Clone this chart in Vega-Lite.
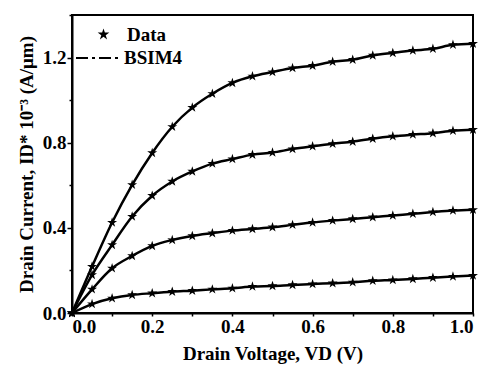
{
  "$schema": "https://vega.github.io/schema/vega-lite/v6.json",
  "autosize": {"type": "none"},
  "padding": {"left": 72, "top": 15, "right": 13, "bottom": 70},
  "width": 401,
  "height": 298,
  "background": "white",
  "config": {
    "view": {"stroke": "black", "strokeWidth": 2},
    "font": "Liberation Serif, Times New Roman, serif",
    "axis": {
      "labelFont": "Liberation Serif, Times New Roman, serif", "labelFontWeight": "bold", "labelFontSize": 19, "labelColor": "black",
      "titleFont": "Liberation Serif, Times New Roman, serif", "titleFontWeight": "bold", "titleFontSize": 19, "titleColor": "black",
      "domainColor": "black", "domainWidth": 2, "tickColor": "black", "tickWidth": 1.5, "grid": false
    },
    "legend": {
      "labelFont": "Liberation Serif, Times New Roman, serif", "labelFontWeight": "bold", "labelFontSize": 19, "labelColor": "black"
    }
  },
  "data": {"values": [
    {"v":0,"i":0,"c":"a"},{"v":0.05,"i":0.218,"c":"a"},{"v":0.1,"i":0.425,"c":"a"},{"v":0.15,"i":0.602,"c":"a"},{"v":0.2,"i":0.752,"c":"a"},{"v":0.25,"i":0.875,"c":"a"},{"v":0.3,"i":0.965,"c":"a"},{"v":0.35,"i":1.03,"c":"a"},{"v":0.4,"i":1.081,"c":"a"},{"v":0.45,"i":1.112,"c":"a"},{"v":0.5,"i":1.132,"c":"a"},{"v":0.55,"i":1.151,"c":"a"},{"v":0.6,"i":1.162,"c":"a"},{"v":0.65,"i":1.18,"c":"a"},{"v":0.7,"i":1.19,"c":"a"},{"v":0.75,"i":1.21,"c":"a"},{"v":0.8,"i":1.222,"c":"a"},{"v":0.85,"i":1.233,"c":"a"},{"v":0.9,"i":1.241,"c":"a"},{"v":0.95,"i":1.26,"c":"a"},{"v":1.0,"i":1.265,"c":"a"},
    {"v":0,"i":0,"c":"b"},{"v":0.05,"i":0.179,"c":"b"},{"v":0.1,"i":0.32,"c":"b"},{"v":0.15,"i":0.453,"c":"b"},{"v":0.2,"i":0.551,"c":"b"},{"v":0.25,"i":0.618,"c":"b"},{"v":0.3,"i":0.665,"c":"b"},{"v":0.35,"i":0.702,"c":"b"},{"v":0.4,"i":0.723,"c":"b"},{"v":0.45,"i":0.744,"c":"b"},{"v":0.5,"i":0.754,"c":"b"},{"v":0.55,"i":0.77,"c":"b"},{"v":0.6,"i":0.783,"c":"b"},{"v":0.65,"i":0.795,"c":"b"},{"v":0.7,"i":0.805,"c":"b"},{"v":0.75,"i":0.819,"c":"b"},{"v":0.8,"i":0.83,"c":"b"},{"v":0.85,"i":0.838,"c":"b"},{"v":0.9,"i":0.845,"c":"b"},{"v":0.95,"i":0.856,"c":"b"},{"v":1.0,"i":0.861,"c":"b"},
    {"v":0,"i":0,"c":"c"},{"v":0.05,"i":0.111,"c":"c"},{"v":0.1,"i":0.21,"c":"c"},{"v":0.15,"i":0.268,"c":"c"},{"v":0.2,"i":0.315,"c":"c"},{"v":0.25,"i":0.343,"c":"c"},{"v":0.3,"i":0.362,"c":"c"},{"v":0.35,"i":0.375,"c":"c"},{"v":0.4,"i":0.387,"c":"c"},{"v":0.45,"i":0.395,"c":"c"},{"v":0.5,"i":0.403,"c":"c"},{"v":0.55,"i":0.414,"c":"c"},{"v":0.6,"i":0.425,"c":"c"},{"v":0.65,"i":0.434,"c":"c"},{"v":0.7,"i":0.442,"c":"c"},{"v":0.75,"i":0.45,"c":"c"},{"v":0.8,"i":0.458,"c":"c"},{"v":0.85,"i":0.466,"c":"c"},{"v":0.9,"i":0.474,"c":"c"},{"v":0.95,"i":0.481,"c":"c"},{"v":1.0,"i":0.485,"c":"c"},
    {"v":0,"i":0,"c":"d"},{"v":0.05,"i":0.042,"c":"d"},{"v":0.1,"i":0.069,"c":"d"},{"v":0.15,"i":0.085,"c":"d"},{"v":0.2,"i":0.093,"c":"d"},{"v":0.25,"i":0.1,"c":"d"},{"v":0.3,"i":0.105,"c":"d"},{"v":0.35,"i":0.111,"c":"d"},{"v":0.4,"i":0.116,"c":"d"},{"v":0.45,"i":0.124,"c":"d"},{"v":0.5,"i":0.127,"c":"d"},{"v":0.55,"i":0.132,"c":"d"},{"v":0.6,"i":0.136,"c":"d"},{"v":0.65,"i":0.14,"c":"d"},{"v":0.7,"i":0.144,"c":"d"},{"v":0.75,"i":0.151,"c":"d"},{"v":0.8,"i":0.155,"c":"d"},{"v":0.85,"i":0.16,"c":"d"},{"v":0.9,"i":0.166,"c":"d"},{"v":0.95,"i":0.171,"c":"d"},{"v":1.0,"i":0.176,"c":"d"}
  ]},
  "encoding": {
    "x": {"field": "v", "type": "quantitative", "scale": {"domain": [0, 1], "nice": false},
      "axis": {"title": "Drain Voltage, VD (V)", "values": [0,0.1,0.2,0.3,0.4,0.5,0.6,0.7,0.8,0.9,1.0],
        "labelExpr": "round(datum.value*10)%2==0 ? format(datum.value,'.1f') : ''",
        "tickSize": 3, "labelPadding": 1, "titlePadding": 8}},
    "y": {"field": "i", "type": "quantitative", "scale": {"domain": [0, 1.4], "nice": false},
      "axis": {"title": "Drain Current, ID* 10⁻³ (A/μm)", "values": [0,0.2,0.4,0.6,0.8,1.0,1.2,1.4],
        "labelExpr": "round(datum.value*10)%4==0 && datum.value < 1.3 ? format(datum.value,'.1f') : ''",
        "tickSize": {"condition": {"test": "round(datum.value*10)%4==0", "value": 5}, "value": 3},
        "labelPadding": 1, "titlePadding": 6}}
  },
  "layer": [
    {
      "mark": {"type": "line", "interpolate": "monotone", "strokeWidth": 2.5},
      "encoding": {
        "detail": {"field": "c"},
        "color": {"datum": "BSIM4", "type": "nominal", "scale": {"range": ["black"]},
          "legend": {"title": null, "orient": "none", "legendX": 3, "legendY": 21, "symbolType": "stroke",
            "symbolSize": 1764, "symbolStrokeWidth": 2, "symbolDash": [12, 4, 3, 4], "labelOffset": 5}}
      }
    },
    {
      "mark": {"type": "point", "filled": true, "opacity": 1, "color": "black", "size": 110},
      "encoding": {
        "shape": {"datum": "Data", "type": "nominal",
          "scale": {"range": ["M0,-1L0.2234,-0.3074L0.9511,-0.309L0.3614,0.1174L0.5878,0.809L0,0.38L-0.5878,0.809L-0.3614,0.1174L-0.9511,-0.309L-0.2234,-0.3074Z"]},
          "legend": {"title": null, "orient": "none", "legendX": 22, "legendY": 10, "symbolFillColor": "black",
            "symbolStrokeColor": "black", "symbolSize": 150, "labelOffset": 14}}
      }
    }
  ]
}
